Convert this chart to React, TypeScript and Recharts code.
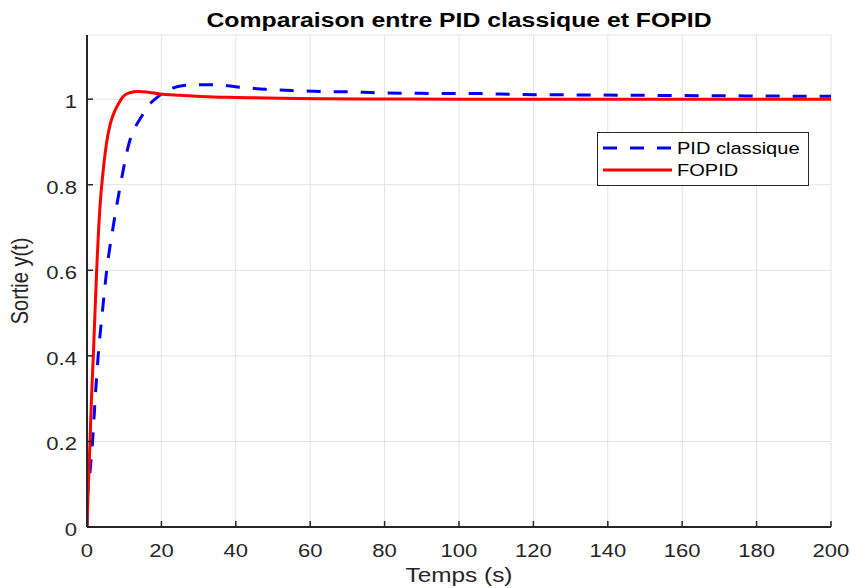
import React from "react"
import {
  LineChart,
  Line,
  XAxis,
  YAxis,
  CartesianGrid,
  Legend
} from "recharts"

// values
const pidTime = [0, 0.1, 0.7, 1.5, 2.2, 3.0, 4.1, 5.3, 7.0, 9.0, 11.4, 13, 14.7, 16.5, 18.3, 20.2, 23, 26, 30, 34, 41, 48, 55, 63, 71, 78, 92, 106, 115, 130, 150, 170, 195, 200]
const pidOut = [0, 0.07, 0.12, 0.2, 0.3, 0.4, 0.5, 0.6, 0.7, 0.8, 0.9, 0.935, 0.96, 0.985, 1.0, 1.013, 1.026, 1.032, 1.034, 1.034, 1.028, 1.023, 1.02, 1.018, 1.017, 1.015, 1.0135, 1.013, 1.011, 1.01, 1.009, 1.008, 1.007, 1.007]

const fopidTime = [0, 0.3, 0.8, 1.2, 1.7, 2.6, 3.5, 4.2, 5.3, 6.2, 7.1, 8.5, 9.8, 11.5, 13.8, 16, 19.6, 25, 34, 40, 52, 62, 80, 100, 150, 200]
const fopidOut = [0, 0.08, 0.196, 0.3, 0.4, 0.6, 0.75, 0.82, 0.9, 0.94, 0.965, 0.99, 1.007, 1.015, 1.018, 1.017, 1.012, 1.009, 1.005, 1.004, 1.002, 1.001, 1.0005, 1.0, 1.0, 1.0]

const xTicks = [0, 20, 40, 60, 80, 100, 120, 140, 160, 180, 200]
const yTicks = [0, 0.2, 0.4, 0.6, 0.8, 1]

const series = [
  { name: "PID classique", color: "#0000ff", dash: "14 13" },
  { name: "FOPID", color: "#ff0000", dash: undefined as string | undefined }
]

const pidData = pidTime.map((t, i) => ({ t, y: pidOut[i] }))
const fopidData = fopidTime.map((t, i) => ({ t, y: fopidOut[i] }))

const FONT = "'Liberation Sans', Arial, Helvetica, sans-serif"
const INK = "#262626"
// the reference is a bit wider than tall, text is stretched to match
const STRETCH = 1.16

const XTick = (props: any) => {
  const { x, y, payload } = props
  return (
    <g transform={`translate(${x},${y})`}>
      <text transform={`scale(${STRETCH},1)`} textAnchor="middle" y={24} fontSize={19} fontFamily={FONT} fill={INK}>
        {payload.value}
      </text>
    </g>
  )
}

const YTick = (props: any) => {
  const { x, y, payload } = props
  return (
    <g transform={`translate(${x},${y})`}>
      <text transform={`scale(${STRETCH},1)`} textAnchor="end" y={9} fontSize={19} fontFamily={FONT} fill={INK}>
        {payload.value}
      </text>
    </g>
  )
}

const Empty = () => <g />

const XLabel = (props: any) => {
  const { viewBox } = props
  const cx = viewBox.x + viewBox.width / 2
  return (
    <g transform={`translate(${cx},582)`}>
      <text transform={`scale(${STRETCH},1)`} textAnchor="middle" fontSize={21} fontFamily={FONT} fill={INK}>
        Temps (s)
      </text>
    </g>
  )
}

// y label plus the chart title (plot area spans x 87..831)
const YLabel = (props: any) => {
  const { viewBox } = props
  const cy = viewBox.y + viewBox.height / 2
  return (
    <g>
      <g transform={`translate(28,${cy}) rotate(-90)`}>
        <text transform={`scale(1,${STRETCH})`} textAnchor="middle" fontSize={20} fontFamily={FONT} fill={INK}>
          Sortie y(t)
        </text>
      </g>
      <g transform="translate(459,27)">
        <text transform="scale(1.18,1)" textAnchor="middle" fontSize={21} fontWeight="bold" fontFamily={FONT} fill="#000">
          Comparaison entre PID classique et FOPID
        </text>
      </g>
    </g>
  )
}

const LegendBox = () => (
  <svg width={212} height={54} style={{ display: "block" }}>
    <rect x={0.5} y={0.5} width={211} height={53} fill="#fff" stroke={INK} strokeWidth={1} />
    {series.map((s, i) => (
      <g key={s.name}>
        <line x1={6} x2={75} y1={16 + i * 22} y2={16 + i * 22} stroke={s.color} strokeWidth={3} strokeDasharray={s.dash} />
        <g transform={`translate(80,${22 + i * 22})`}>
          <text transform={`scale(1.18,1)`} fontSize={17} fontFamily={FONT} fill="#000">
            {s.name}
          </text>
        </g>
      </g>
    ))}
  </svg>
)

export default function App() {
  return (
    <div style={{ position: "absolute", left: 0, top: 0, width: 850, height: 588, background: "#fff" }}>
      <LineChart width={850} height={588} margin={{ top: 35, right: 19, bottom: 0, left: 0 }}>
        <CartesianGrid stroke="#e3e3e3" strokeWidth={1} />
        <XAxis
          dataKey="t"
          type="number"
          domain={[0, 200]}
          ticks={xTicks}
          height={61}
          allowDataOverflow
          axisLine={{ stroke: INK, strokeWidth: 2 }}
          tickLine={{ stroke: INK, strokeWidth: 1.5 }}
          tickSize={-6}
          tickMargin={12}
          tick={XTick}
          label={{ content: XLabel }}
        />
        <XAxis
          xAxisId="top"
          orientation="top"
          type="number"
          domain={[0, 200]}
          ticks={xTicks}
          height={0}
          axisLine={{ stroke: INK, strokeWidth: 2 }}
          tickLine={{ stroke: INK, strokeWidth: 1.5 }}
          tickSize={-6}
          tick={Empty}
        />
        <YAxis
          type="number"
          domain={[0, 1.15]}
          ticks={yTicks}
          width={87}
          allowDataOverflow
          axisLine={{ stroke: INK, strokeWidth: 2 }}
          tickLine={{ stroke: INK, strokeWidth: 1.5 }}
          tickSize={-6}
          tickMargin={16}
          tick={YTick}
          label={{ content: YLabel }}
        />
        <YAxis
          yAxisId="right"
          orientation="right"
          type="number"
          domain={[0, 1.15]}
          ticks={yTicks}
          width={0}
          axisLine={{ stroke: INK, strokeWidth: 2 }}
          tickLine={{ stroke: INK, strokeWidth: 1.5 }}
          tickSize={-6}
          tick={Empty}
        />
        <Legend
          layout="vertical"
          align="center"
          verticalAlign="middle"
          content={LegendBox}
          wrapperStyle={{ position: "absolute", left: 597, top: 132, width: 212, height: 54 }}
        />
        <Line
          data={pidData}
          dataKey="y"
          name={series[0].name}
          type="monotone"
          stroke={series[0].color}
          strokeWidth={3}
          strokeDasharray={series[0].dash}
          dot={false}
          activeDot={false}
          isAnimationActive={false}
        />
        <Line
          data={fopidData}
          dataKey="y"
          name={series[1].name}
          type="monotone"
          stroke={series[1].color}
          strokeWidth={3}
          dot={false}
          activeDot={false}
          isAnimationActive={false}
        />
      </LineChart>
    </div>
  )
}
